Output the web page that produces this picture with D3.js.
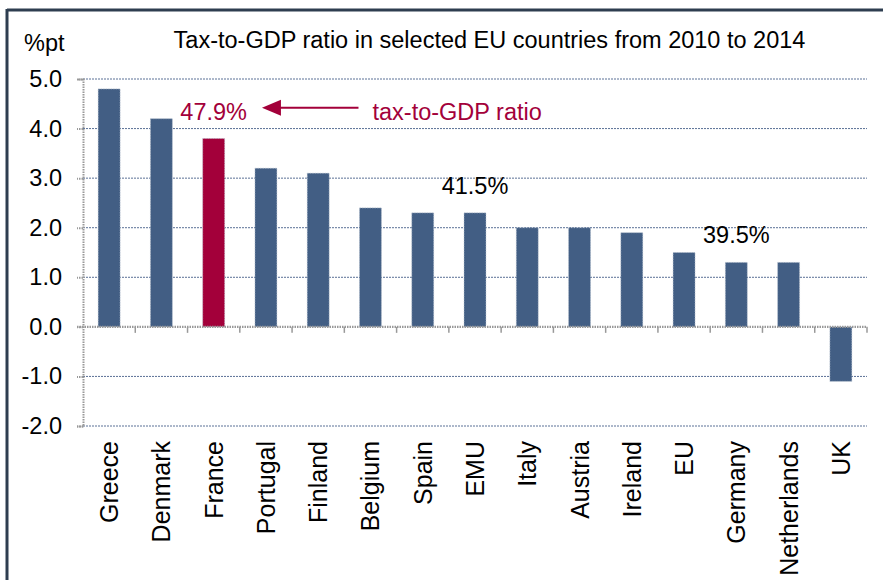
<!DOCTYPE html>
<html>
<head>
<meta charset="utf-8">
<script src="https://cdn.jsdelivr.net/npm/d3@7"></script>
<style>
  body { margin: 0; background: #fff; }
  svg { display: block; font-family: 'Liberation Sans', Arial, sans-serif; }
</style>
</head>
<body>
<svg id="chart" width="883" height="580"></svg>
<script>
const countries = ['Greece', 'Denmark', 'France', 'Portugal', 'Finland', 'Belgium', 'Spain',
  'EMU', 'Italy', 'Austria', 'Ireland', 'EU', 'Germany', 'Netherlands', 'UK'];
const changes = [4.8, 4.2, 3.8, 3.2, 3.1, 2.4, 2.3, 2.3, 2.0, 2.0, 1.9, 1.5, 1.3, 1.3, -1.1];
const yTicks = [5, 4, 3, 2, 1, 0, -1, -2];
const highlight = 'France';
// ratio labels: [category, value at the text baseline, text]
const ratioLabels = [
  ['France', 4.18, '47.9%'],
  ['EMU', 2.68, '41.5%'],
  ['Germany', 1.69, '39.5%']
];

const svg = d3.select('#chart');
const margin = { left: 83, right: 16, top: 79, bottom: 154 };
const width = 883, height = 580;

const blue = '#425e84';
const red = '#a3003a';
const fs = 23.5;

// frame
svg.append('line').attr('x1', 7).attr('x2', width).attr('y1', 10).attr('y2', 10)
  .attr('stroke', '#2e3e50').attr('stroke-width', 3);
svg.append('line').attr('x1', 7).attr('x2', 7).attr('y1', 9).attr('y2', height)
  .attr('stroke', '#2e3e50').attr('stroke-width', 3);

const x = d3.scaleBand()
  .domain(countries)
  .range([margin.left, width - margin.right])
  .paddingInner(0.58)
  .paddingOuter(0.29);

const y = d3.scaleLinear()
  .domain([-2, 5])
  .range([height - margin.bottom, margin.top]);

// grid lines
svg.append('g')
  .selectAll('line')
  .data(yTicks.filter(d => d !== 0))
  .join('line')
  .attr('x1', margin.left).attr('x2', width - margin.right)
  .attr('y1', d => y(d)).attr('y2', d => y(d))
  .attr('stroke', '#5a7096')
  .attr('stroke-width', 1)
  .attr('stroke-dasharray', '2,1');

// y axis
const yAxis = svg.append('g')
  .attr('transform', `translate(${margin.left},0)`)
  .call(d3.axisLeft(y).tickValues(yTicks).tickFormat(d => d.toFixed(1)).tickSize(6).tickPadding(15));
yAxis.select('.domain').attr('stroke', '#999').attr('stroke-width', 2).attr('stroke-dasharray', '1.5,1');
yAxis.selectAll('.tick line').attr('stroke', '#999').attr('stroke-width', 2).attr('stroke-dasharray', '1.5,1');
yAxis.selectAll('.tick text')
  .attr('font-size', fs)
  .attr('fill', '#000')
  .attr('font-family', "'Liberation Sans', Arial, sans-serif");

// bars
svg.append('g')
  .selectAll('rect')
  .data(countries)
  .join('rect')
  .attr('x', d => x(d))
  .attr('width', x.bandwidth())
  .attr('y', (d, i) => y(Math.max(0, changes[i])))
  .attr('height', (d, i) => Math.abs(y(changes[i]) - y(0)))
  .attr('fill', d => d === highlight ? red : blue)
  .attr('stroke', '#b8c2d0')
  .attr('stroke-width', 0.6)
  .attr('stroke-dasharray', '1.5,1');

// zero axis with ticks between categories
const boundaries = d3.range(countries.length + 1).map(i => margin.left + i * (width - margin.left - margin.right) / countries.length);
const xAxis = svg.append('g');
xAxis.append('line')
  .attr('x1', margin.left - 6).attr('x2', width - margin.right)
  .attr('y1', y(0)).attr('y2', y(0))
  .attr('stroke', '#999').attr('stroke-width', 2.2).attr('stroke-dasharray', '1.5,1');
xAxis.selectAll('.xt')
  .data(boundaries.slice(1))
  .join('line')
  .attr('class', 'xt')
  .attr('x1', d => d).attr('x2', d => d)
  .attr('y1', y(0)).attr('y2', y(0) + 6)
  .attr('stroke', '#999').attr('stroke-width', 1.5);

// category labels
svg.append('g')
  .selectAll('text')
  .data(countries)
  .join('text')
  .attr('transform', d => `translate(${x(d) + x.bandwidth() / 2 + 9},${y(-2) + 15}) rotate(-90)`)
  .attr('text-anchor', 'end')
  .attr('font-size', 25)
  .attr('fill', '#000')
  .text(d => d);

// unit label and title
svg.append('text').attr('x', 24).attr('y', 51).attr('font-size', fs).text('%pt');
svg.append('text').attr('x', 489.5).attr('y', 48).attr('text-anchor', 'middle')
  .attr('font-size', fs).text('Tax-to-GDP ratio in selected EU countries from 2010 to 2014');

// ratio annotations
svg.append('g')
  .selectAll('text')
  .data(ratioLabels)
  .join('text')
  .attr('x', d => x(d[0]) + x.bandwidth() / 2)
  .attr('y', d => y(d[1]))
  .attr('text-anchor', 'middle')
  .attr('font-size', fs)
  .attr('fill', d => d[0] === highlight ? red : '#000')
  .text(d => d[2]);

// arrow and explanation
const arrowY = y(4.42);
const arrowStart = x('Belgium') - 1;
const arrowEnd = x('Portugal') + 7;
svg.append('line')
  .attr('x1', arrowStart).attr('x2', arrowEnd + 14)
  .attr('y1', arrowY).attr('y2', arrowY)
  .attr('stroke', red).attr('stroke-width', 2.2);
svg.append('path')
  .attr('d', `M${arrowEnd},${arrowY} L${arrowEnd + 19},${arrowY - 8} L${arrowEnd + 19},${arrowY + 8} Z`)
  .attr('fill', red);
svg.append('text')
  .attr('x', arrowStart + 14).attr('y', y(4.18))
  .attr('font-size', fs).attr('fill', red)
  .text('tax-to-GDP ratio');
</script>
</body>
</html>
